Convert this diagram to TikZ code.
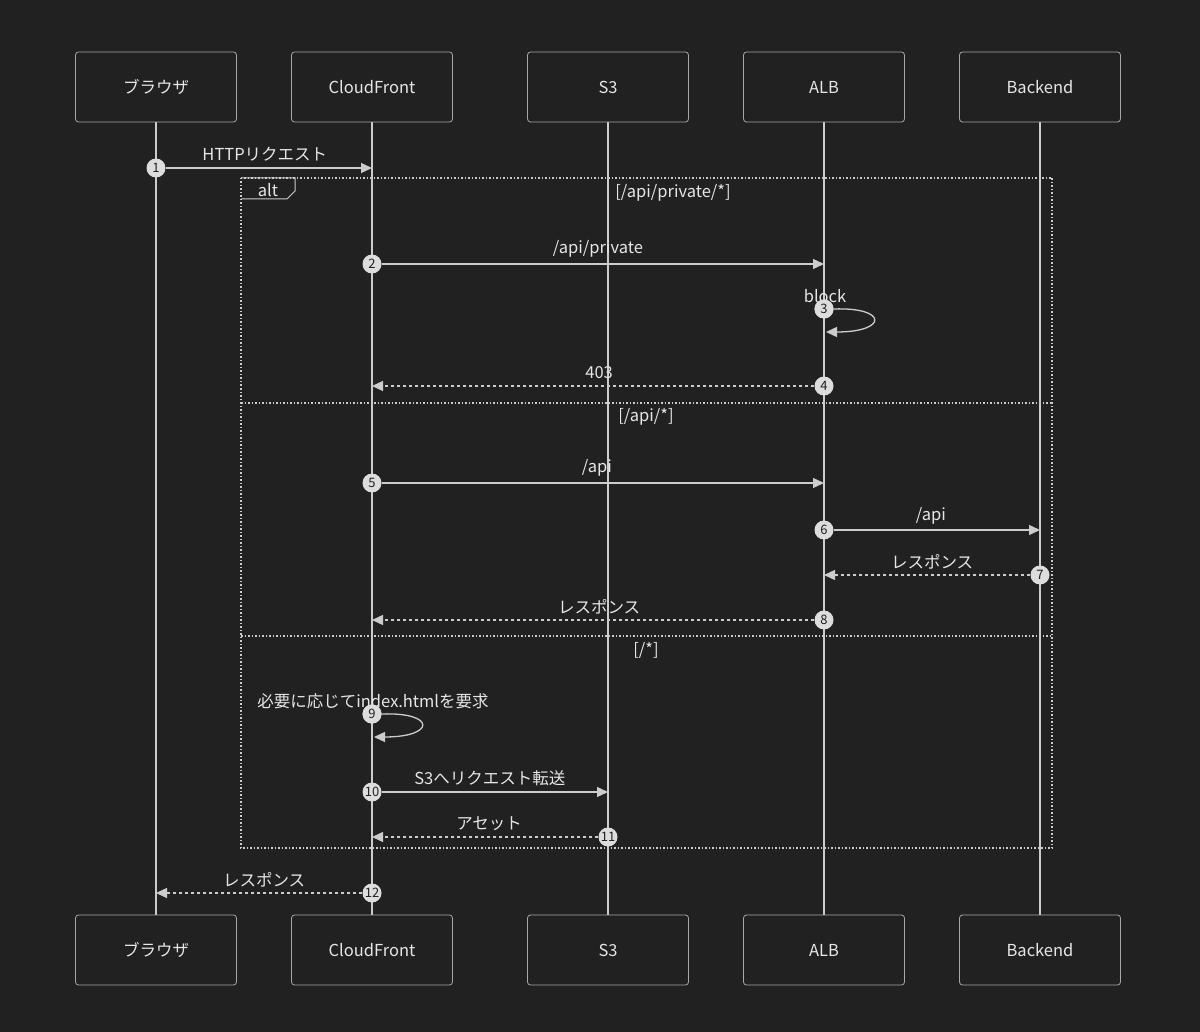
\documentclass[tikz,border=0pt]{standalone}
\usepackage{fontspec}
\setmainfont{Noto Sans CJK JP}
\usetikzlibrary{arrows.meta}
\definecolor{bg}{HTML}{212121}
\definecolor{ln}{HTML}{CCCCCC}
\definecolor{txt}{HTML}{E6E6E6}
\definecolor{boxln}{HTML}{A8A8A8}
\definecolor{numfill}{HTML}{DDDDDD}

\begin{document}
\begin{tikzpicture}[x=1pt,y=-1pt,
  actor/.style={draw=boxln, fill=bg, rounded corners=3pt, minimum width=161pt,
    minimum height=70pt, text=txt, font=\fontsize{16.5}{18}\selectfont, line width=0.8pt},
  lifeline/.style={ln, line width=1.6pt},
  msg/.style={ln, line width=1.3pt, -{Triangle[length=11pt,width=10pt]}},
  reply/.style={msg, dash pattern=on 3pt off 3pt},
  num/.style={circle, fill=numfill, text=bg, minimum size=19pt, inner sep=0pt,
    font=\fontsize{13}{13}\selectfont},
  lbl/.style={text=txt, font=\fontsize{16.5}{18}\selectfont},
  frame/.style={ln, line width=1.5pt, dash pattern=on 1.5pt off 2pt}]

\fill[bg] (0,0) rectangle (1200,1032);
\useasboundingbox (0,0) rectangle (1200,1032);

% lifelines
\foreach \x in {156,372,608,824,1040}
  \draw[lifeline] (\x,122) -- (\x,915);

% participants
\node[actor] (browserTop) at (156,87) {ブラウザ};
\node[actor] (cfTop) at (372,87) {CloudFront};
\node[actor] (s3Top) at (608,87) {S3};
\node[actor] (albTop) at (824,87) {ALB};
\node[actor] (backTop) at (1040,87) {Backend};
\node[actor] (browserBot) at (156,950) {ブラウザ};
\node[actor] (cfBot) at (372,950) {CloudFront};
\node[actor] (s3Bot) at (608,950) {S3};
\node[actor] (albBot) at (824,950) {ALB};
\node[actor] (backBot) at (1040,950) {Backend};

% alt frame
\draw[frame] (241,178) rectangle (1052,848);
\draw[frame] (241,403) -- (1052,403);
\draw[frame] (241,636) -- (1052,636);
\draw[ln, line width=1pt] (241,178) -- (295,178) -- (295,191) -- (287,199) -- (241,199);
\node[lbl] (altTag) at (268,190) {alt};
\node[lbl] (cond1) at (673,193) {[/api/private/*]};
\node[lbl] (cond2) at (646,417) {[/api/*]};
\node[lbl] (cond3) at (646,650) {[/*]};

% message end points
\coordinate (e1) at (372,168);
\coordinate (e2) at (824,264);
\coordinate (e3) at (826,332);
\coordinate (e4) at (372,386);
\coordinate (e5) at (824,483);
\coordinate (e6) at (1040,530);
\coordinate (e7) at (824,575);
\coordinate (e8) at (372,620);
\coordinate (e9) at (374,737);
\coordinate (e10) at (608,792);
\coordinate (e11) at (372,837);
\coordinate (e12) at (156,893);

% numbered starts
\node[num] (m1) at (156,168) {1};
\node[num] (m2) at (372,264) {2};
\node[num] (m3) at (824,309) {3};
\node[num] (m4) at (824,386) {4};
\node[num] (m5) at (372,483) {5};
\node[num] (m6) at (824,530) {6};
\node[num] (m7) at (1040,575) {7};
\node[num] (m8) at (824,620) {8};
\node[num] (m9) at (372,714) {9};
\node[num] (m10) at (372,792) {10};
\node[num] (m11) at (608,837) {11};
\node[num] (m12) at (372,893) {12};

% messages
\draw[msg] (m1) -- (e1) node[lbl, midway, xshift=-4pt, yshift=14pt] {HTTPリクエスト};
\draw[msg] (m2) -- (e2) node[lbl, midway, xshift=-5pt, yshift=15pt] {/api/private};
\draw[msg] (m3.east) .. controls (888,307) and (888,332) .. (e3);
\node[lbl] (t3) at (825,296) {block};
\draw[reply] (m4) -- (e4) node[lbl, midway, xshift=6pt, yshift=13pt] {403};
\draw[msg] (m5) -- (e5) node[lbl, midway, xshift=-6pt, yshift=15pt] {/api};
\draw[msg] (m6) -- (e6) node[lbl, midway, xshift=-6pt, yshift=14pt] {/api};
\draw[reply] (m7) -- (e7) node[lbl, midway, xshift=5pt, yshift=13pt] {レスポンス};
\draw[reply] (m8) -- (e8) node[lbl, midway, xshift=6pt, yshift=13pt] {レスポンス};
\draw[msg] (m9.east) .. controls (436,712) and (436,737) .. (e9);
\node[lbl] (t9) at (373,701) {必要に応じてindex.htmlを要求};
\draw[msg] (m10) -- (e10) node[lbl, midway, xshift=-5pt, yshift=14pt] {S3へリクエスト転送};
\draw[reply] (m11) -- (e11) node[lbl, midway, xshift=4pt, yshift=13pt] {アセット};
\draw[reply] (m12) -- (e12) node[lbl, midway, xshift=5pt, yshift=13pt] {レスポンス};

% keep numbers on top of labels
\foreach \n/\p in {3/{824,309},9/{372,714}}
  \node[num] at (\p) {\n};

\end{tikzpicture}
\end{document}
